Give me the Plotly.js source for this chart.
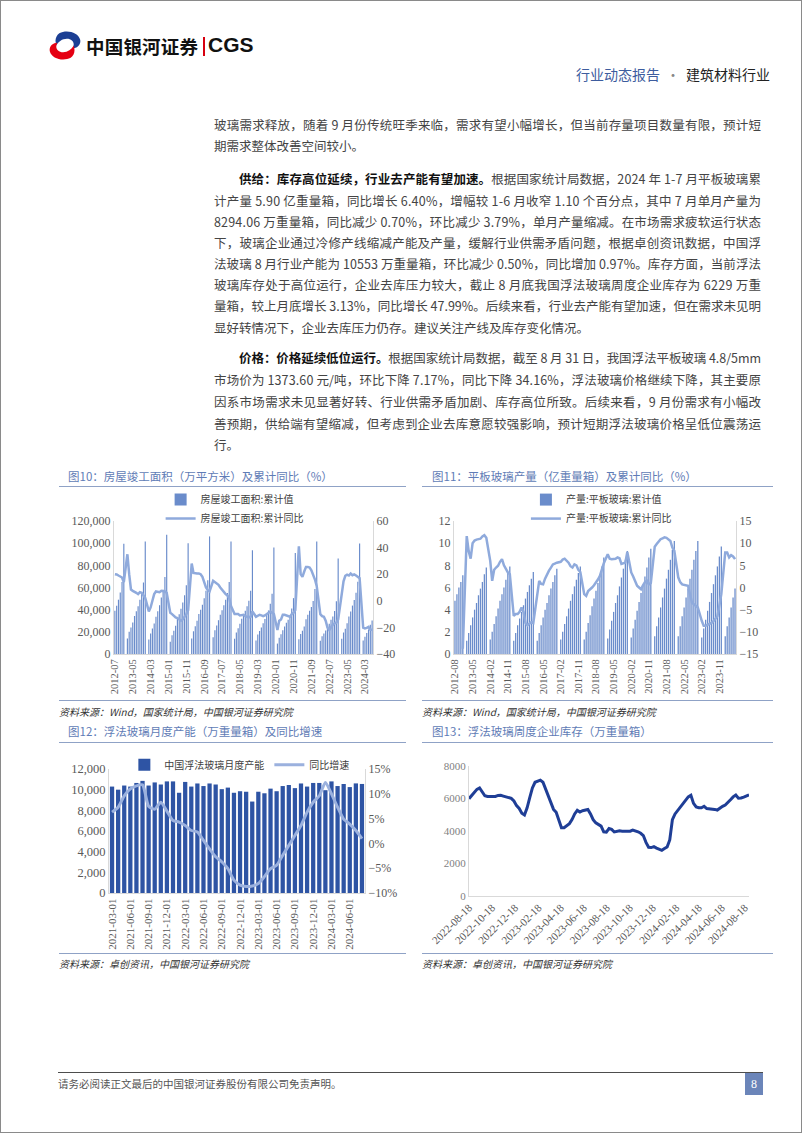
<!DOCTYPE html>
<html><head><meta charset="utf-8">
<script src="https://cdn.plot.ly/plotly-3.0.1.min.js"></script>
<style>
html,body{margin:0;padding:0;background:#fff;}
#page{position:relative;width:802px;height:1133px;box-sizing:border-box;border:1px solid #8a8a8a;overflow:hidden;font-family:"Noto Sans CJK SC",sans-serif;background:#fff;}
.abs{position:absolute;white-space:nowrap;}
.tl{position:absolute;left:213px;width:547px;height:20px;line-height:20px;font-size:12.5px;color:#444;white-space:nowrap;}
.tl b{color:#111;}
.ct{position:absolute;font-size:11.5px;color:#5F7CB6;white-space:nowrap;line-height:16px;}
.hr{position:absolute;height:0;border-top:1.5px solid #8FA2C6;}
.src{position:absolute;font-size:10px;font-style:italic;color:#333;white-space:nowrap;line-height:14px;}
.chart{position:absolute;}
</style></head>
<body>
<div id="page">
  <!-- header -->
  <svg class="abs" style="left:45px;top:29px" width="38" height="31" viewBox="0 0 40 32">
    <path d="M14,3 C22,-1 34,2 36,10 C37,15 33,19 28,19 C31,14 28,9 22,9 C17,9 13,12 11,16 C9,11 10,6 14,3 Z" fill="#1C3F94"/>
    <path d="M26,29 C18,33 6,30 4,22 C3,17 7,13 12,13 C9,18 12,23 18,23 C23,23 27,20 29,16 C31,21 30,26 26,29 Z" fill="#E50012"/>
  </svg>
  <div class="abs" style="left:85px;top:33px;font-size:18.5px;font-weight:700;color:#111;line-height:24px;letter-spacing:0.2px">中国银河证券</div>
  <div class="abs" style="left:202px;top:36px;width:1.5px;height:19px;background:#D7000F"></div>
  <div class="abs" style="left:207px;top:31px;font-family:'Liberation Sans',Arial,sans-serif;font-weight:700;font-size:21px;line-height:26px;color:#111">CGS</div>
  <div class="abs" style="left:575px;top:64px;font-size:14px;line-height:18px"><span style="color:#3D5C9E">行业动态报告</span><span style="color:#888;margin:0 6px">·</span><span style="color:#222">建筑材料行业</span></div>

  <!-- body text -->
  <div class="tl jl" style="top:114px"><span>玻璃需求释放，随着 9 月份传统旺季来临，需求有望小幅增长，但当前存量项目数量有限，预计短</span></div>
  <div class="tl" style="top:134.5px"><span>期需求整体改善空间较小。</span></div>

  <div class="tl jl" style="top:168px;left:238px;width:522px"><span><b>供给：库存高位延续，行业去产能有望加速。</b>根据国家统计局数据，2024 年 1-7 月平板玻璃累</span></div>
  <div class="tl jl" style="top:189.5px"><span>计产量 5.90 亿重量箱，同比增长 6.40%，增幅较 1-6 月收窄 1.10 个百分点，其中 7 月单月产量为</span></div>
  <div class="tl jl" style="top:210.5px"><span>8294.06 万重量箱，同比减少 0.70%，环比减少 3.79%，单月产量缩减。在市场需求疲软运行状态</span></div>
  <div class="tl jl" style="top:232px"><span>下，玻璃企业通过冷修产线缩减产能及产量，缓解行业供需矛盾问题，根据卓创资讯数据，中国浮</span></div>
  <div class="tl jl" style="top:253px"><span>法玻璃 8 月行业产能为 10553 万重量箱，环比减少 0.50%，同比增加 0.97%。库存方面，当前浮法</span></div>
  <div class="tl jl" style="top:273.5px"><span>玻璃库存处于高位运行，企业去库压力较大，截止 8 月底我国浮法玻璃周度企业库存为 6229 万重</span></div>
  <div class="tl jl" style="top:295px"><span>量箱，较上月底增长 3.13%，同比增长 47.99%。后续来看，行业去产能有望加速，但在需求未见明</span></div>
  <div class="tl" style="top:317px"><span>显好转情况下，企业去库压力仍存。建议关注产线及库存变化情况。</span></div>

  <div class="tl jl" style="top:347px;left:238px;width:522px"><span><b>价格：价格延续低位运行。</b>根据国家统计局数据，截至 8 月 31 日，我国浮法平板玻璃 4.8/5mm</span></div>
  <div class="tl jl" style="top:369px"><span>市场价为 1373.60 元/吨，环比下降 7.17%，同比下降 34.16%，浮法玻璃价格继续下降，其主要原</span></div>
  <div class="tl jl" style="top:391px"><span>因系市场需求未见显著好转、行业供需矛盾加剧、库存高位所致。后续来看，9 月份需求有小幅改</span></div>
  <div class="tl jl" style="top:413px"><span>善预期，供给端有望缩减，但考虑到企业去库意愿较强影响，预计短期浮法玻璃价格呈低位震荡运</span></div>
  <div class="tl" style="top:434px"><span>行。</span></div>

  <!-- chart frames -->
  <div class="ct" style="left:67px;top:467px">图10：房屋竣工面积（万平方米）及累计同比（%）</div>
  <div class="ct" style="left:431px;top:467px">图11：平板玻璃产量（亿重量箱）及累计同比（%）</div>
  <div class="hr" style="left:58px;top:485px;width:347px"></div>
  <div class="hr" style="left:421px;top:485px;width:351px"></div>
  <div class="hr" style="left:58px;top:699px;width:347px"></div>
  <div class="hr" style="left:421px;top:699px;width:351px"></div>
  <div class="src" style="left:58px;top:704px">资料来源：Wind，国家统计局，中国银河证券研究院</div>
  <div class="src" style="left:421px;top:704px">资料来源：Wind，国家统计局，中国银河证券研究院</div>

  <div class="ct" style="left:67px;top:722px">图12：浮法玻璃月度产能（万重量箱）及同比增速</div>
  <div class="ct" style="left:431px;top:722px">图13：浮法玻璃周度企业库存（万重量箱）</div>
  <div class="hr" style="left:58px;top:741px;width:347px"></div>
  <div class="hr" style="left:421px;top:741px;width:351px"></div>
  <div class="hr" style="left:58px;top:952px;width:347px"></div>
  <div class="hr" style="left:421px;top:952px;width:351px"></div>
  <div class="src" style="left:58px;top:956px">资料来源：卓创资讯，中国银河证券研究院</div>
  <div class="src" style="left:421px;top:956px">资料来源：卓创资讯，中国银河证券研究院</div>

  <div id="c10" class="chart" style="left:55px;top:490px;width:345px;height:210px"></div>
  <div id="c11" class="chart" style="left:400px;top:490px;width:400px;height:210px"></div>
  <div id="c12" class="chart" style="left:55px;top:745px;width:345px;height:207px"></div>
  <div id="c13" class="chart" style="left:400px;top:745px;width:400px;height:207px"></div>

  <!-- footer -->
  <div class="abs" style="left:57px;top:1071px;width:705px;border-top:1.5px solid #4d4d4d"></div>
  <div class="abs" style="left:57px;top:1076px;font-size:10.5px;line-height:14px;color:#555">请务必阅读正文最后的中国银河证券股份有限公司免责声明。</div>
  <div class="abs" style="left:744px;top:1072px;width:18px;height:22px;background:#6B85B9;color:#fff;font-family:'Liberation Serif',serif;font-size:12px;line-height:22px;text-align:center">8</div>
</div>

<script>
// ---------- data ----------
// Chart 10: 房屋竣工面积 累计值 (万平方米), monthly 2012-07 .. 2024-07 (Jan not published)
const area10 = [
  39000, 43500, 49000, 55500, 65000, 99400,
  null, 13900, 20000, 24000, 28500, 34300, 38500, 43000, 49000, 55000, 64500, 101400,
  null, 13000, 18500, 23000, 27500, 33500, 38500, 44000, 51000, 58000, 69500, 107500,
  null, 11000, 17000, 21000, 25500, 31500, 35800, 40800, 46500, 53000, 62000, 100000,
  null, 14000, 20500, 25000, 29900, 36000, 40000, 44500, 50400, 57000, 66600, 106100,
  null, 15200, 21500, 25700, 30500, 35500, 39500, 44000, 49000, 55000, 65000, 101500,
  null, 13800, 19500, 23200, 27200, 31800, 35500, 39000, 43000, 48000, 57000, 93600,
  null, 12200, 17500, 20800, 23800, 27800, 31500, 35100, 39300, 45300, 54400, 96000,
  null, 9400, 14700, 17800, 21400, 24900, 28200, 31000, 34300, 41100, 50400, 91200,
  null, 13200, 18100, 21000, 24900, 31300, 35500, 39100, 42300, 47800, 58600, 101400,
  null, 11900, 16000, 18500, 21100, 24600, 27200, 30800, 33900, 38800, 47500, 86200,
  null, 13800, 19400, 22800, 27800, 33900, 38400, 43700, 48700, 55200, 65200, 99800,
  null, 12200, 15500, 18900, 22200, 26500, 30300
];
// 房屋竣工面积 累计同比 (%)
const yoy10 = [
  20.0, 19.8, 19.0, 18.5, 17.5, 14.0,
  null, 35.0, 20.0, 8.5, 7.5, 7.0, 6.0, 5.0, 6.5, 6.0, 4.0, 2.0,
  null, -8.0, -5.0, 0.0, 5.0, 7.0, 7.0, 6.5, 7.5, 7.5, 7.0, 6.0,
  null, -9.0, -10.0, -11.5, -12.5, -13.0, -14.0, -15.0, -14.0, -12.0, -10.0, -7.0,
  null, 28.0, 21.0, 20.5, 20.5, 20.5, 20.0, 18.0, 13.0, 10.0, 8.0, 7.0,
  null, 15.0, 14.0, 13.0, 12.0, 10.0, 8.0, 7.0, 5.0, 4.0, 2.0, -4.0,
  null, -10.0, -10.0, -10.0, -11.0, -10.5, -10.5, -11.5, -12.0, -12.5, -12.0, -8.0,
  null, -12.0, -11.0, -10.5, -11.0, -11.5, -11.0, -10.0, -9.0, -8.0, -9.0, -10.0,
  null, -22.0, -15.0, -14.0, -10.5, -10.5, -11.0, -12.0, -12.0, -10.0, -9.0, -7.0,
  null, 41.0, 20.0, 18.0, 22.0, 25.5, 25.5, 25.0, 23.0, 20.0, 16.0, 11.0,
  null, -10.0, -11.5, -12.0, -15.0, -20.0, -22.0, -20.0, -18.0, -17.0, -16.5, -14.0,
  null, 8.0, 14.7, 18.8, 19.6, 19.0, 20.5, 19.2, 19.8, 19.0, 17.9, 17.0,
  null, -20.2, -20.7, -20.4, -19.6, -21.8, -21.8
];
const ticks10 = ['2012-07','2013-05','2014-03','2015-01','2015-11','2016-09','2017-07','2018-05','2019-03','2020-01','2020-11','2021-09','2022-07','2023-05','2024-03'];

// Chart 11: 平板玻璃产量 累计值 (亿重量箱), monthly 2012-08 .. 2024-07
const glass11 = [
  4.8, 5.4, 6.0, 6.5, 7.1,
  null, 1.2, 1.9, 2.6, 3.3, 4.0, 4.6, 5.3, 5.9, 6.5, 7.2, 7.8,
  null, 1.3, 2.0, 2.7, 3.4, 4.1, 4.8, 5.4, 6.0, 6.7, 7.3, 7.9,
  null, 1.2, 1.9, 2.6, 3.2, 3.8, 4.4, 5.0, 5.6, 6.2, 6.8, 7.4,
  null, 1.2, 1.9, 2.6, 3.3, 4.0, 4.6, 5.3, 5.9, 6.5, 7.1, 7.7,
  null, 1.3, 2.0, 2.7, 3.4, 4.1, 4.8, 5.4, 6.1, 6.7, 7.3, 7.9,
  null, 1.3, 2.0, 2.8, 3.5, 4.3, 5.0, 5.7, 6.4, 7.2, 7.9, 8.7,
  null, 1.4, 2.2, 3.0, 3.8, 4.6, 5.3, 6.1, 6.9, 7.7, 8.5, 9.3,
  null, 1.5, 2.3, 3.1, 3.9, 4.7, 5.5, 6.2, 7.0, 7.8, 8.7, 9.5,
  null, 1.6, 2.5, 3.3, 4.2, 5.1, 5.9, 6.8, 7.6, 8.5, 9.4, 10.2,
  null, 1.6, 2.5, 3.4, 4.2, 5.1, 5.9, 6.8, 7.6, 8.5, 9.3, 10.2,
  null, 1.5, 2.3, 3.1, 3.9, 4.7, 5.5, 6.3, 7.1, 7.9, 8.8, 9.7,
  null, 1.6, 2.5, 3.3, 4.2, 5.1, 5.9
];
// 平板玻璃产量 累计同比 (%)
const yoy11 = [
  null, null, null, null, -13.8,
  null, 11.6, 8.2, 6.5, 10.0, 10.6, 10.8, 10.9, 11.0, 11.5, 11.8, 11.2,
  null, 6.0, 1.5, 4.0, 4.5, 4.9, 5.8, 6.4, 5.0, 4.0, 3.4, 3.0,
  null, -6.4, -6.0, -6.0, -5.5, -4.5, -5.5, -8.0, -8.5, -8.2, -7.8, -8.0,
  null, -1.0, 1.5, 0.8, 0.7, 2.0, 3.0, 3.8, 4.5, 5.2, 5.4, 5.6,
  null, 5.8, 6.3, 6.5, 6.0, 5.6, 4.8, 4.5, 5.2, 5.0, 4.0, 3.5,
  null, -1.5, -1.9, -0.8, -0.5, 0.0, 0.5, 1.1, 1.8, 2.6, 4.0, 5.5,
  null, 7.5, 6.5, 6.4, 6.4, 6.5, 6.8, 6.6, 5.3, 5.4, 5.6, 8.0,
  null, 3.4, 2.5, 1.2, 0.4, 0.0, -0.4, 0.5, 1.2, 1.5, 0.7, 1.0,
  null, 9.2, 9.8, 10.5, 10.9, 11.1, 11.3, 11.2, 10.8, 10.5, 9.0, 8.3,
  null, 2.3, 1.2, 0.7, 0.6, 0.4, 0.4, -1.5, -3.4, -3.8, -4.1, -4.5,
  null, -7.5, -8.6, -8.6, -8.4, -8.3, -8.0, -7.6, -7.1, -6.5, -4.1, -1.5,
  null, 7.9, 7.9, 6.8, 7.3, 7.0, 6.4
];
const ticks11 = ['2012-08','2013-05','2014-02','2014-11','2015-08','2016-05','2017-02','2017-11','2018-08','2019-05','2020-02','2020-11','2021-08','2022-05','2023-02','2023-11'];

// Chart 12: 中国浮法玻璃月度产能 (万重量箱), 2021-03 .. 2024-08
const cap12 = [
  10300, 10000, 10400, 10300, 10650, 10850, 10400, 10700, 10500, 10800,
  10800, 9700, 10750, 10300, 10600, 10350, 10600, 10500, 10050, 10200, 9700, 9850,
  9800, 8850, 9800, 9650, 10100, 9850, 10350, 10450, 10150, 10600, 10300, 10650,
  10650, 9950, 10800, 10350, 10550, 10250, 10606, 10553
];
// 同比增速 (%)
const yoy12 = [
  6.3, 7.3, 9.6, 11.0, 11.6, 11.8, 7.5, 6.9, 8.3, 6.5,
  4.6, 4.3, 3.6, 2.6, 2.3, 0.6, -1.1, -2.7, -3.7, -5.1, -7.4, -8.4,
  -8.7, -8.6, -8.1, -6.7, -5.1, -4.4, -2.4, -0.4, 1.6, 3.6, 6.3, 8.3,
  9.6, 12.3, 10.0, 7.3, 4.9, 3.9, 2.6, 0.97
];
const ticks12 = ['2021-03-01','2021-06-01','2021-09-01','2021-12-01','2022-03-01','2022-06-01','2022-09-01','2022-12-01','2023-03-01','2023-06-01','2023-09-01','2023-12-01','2024-03-01','2024-06-01'];

// Chart 13: 浮法玻璃周度企业库存 (万重量箱), weekly from 2022-08-18
const inv13 = [
  5990, 6180, 6350, 6560, 6650, 6400, 6170, 6120, 6110, 6110,
  6130, 6190, 6200, 6150, 6100, 6050, 6010, 5850, 5560, 5390,
  5100, 4990, 5430, 6050, 6650, 7000, 7080, 7130, 7000, 6560,
  6100, 5650, 5330, 5150, 4700, 4200, 4200, 4330, 4450, 4700,
  5050, 5270, 5170, 5250, 5300, 5320, 5050, 4700, 4500, 4400,
  4300, 3950, 3930, 4150, 4100, 3940, 3980, 4010, 3990, 3980,
  4000, 3990, 4060, 4020, 3950, 3860, 3720, 3300, 3000, 2980,
  3040, 2950, 2880, 2810, 2920, 3020, 3450, 4700, 5050, 5250,
  5430, 5700, 5900, 6100, 6200, 5700, 5480, 5430, 5430, 5520,
  5380, 5370, 5380, 5330, 5290, 5430, 5520, 5600, 5740, 5920,
  6100, 6210, 6020, 6030, 6090, 6180, 6229
];
const start13 = '2022-08-18';

// ---------- helpers ----------
function monthSeq(y0, m0, y1, m1) {
  const a = []; let y = y0, m = m0;
  while (y < y1 || (y === y1 && m <= m1)) {
    a.push(y + '-' + String(m).padStart(2, '0'));
    m++; if (m > 12) { m = 1; y++; }
  }
  return a;
}
function weekSeq(start, n) {
  const d0 = new Date(start + 'T00:00:00Z'); const a = [];
  for (let i = 0; i < n; i++) { const d = new Date(d0.getTime() + i * 7 * 86400000); a.push(d.toISOString().slice(0, 10)); }
  return a;
}
const cats10 = monthSeq(2012, 7, 2024, 7);
const cats11 = monthSeq(2012, 8, 2024, 7);
const cats12 = monthSeq(2021, 3, 2024, 8).map(s => s + '-01');
const dates13 = weekSeq(start13, inv13.length);

const SERIF = 'Liberation Serif, Times New Roman, serif';
const CJK = 'Noto Sans CJK SC, sans-serif';
const AX = '#D9D9D9';
const BAR_THIN = '#6A8CCB';
const cfg = { staticPlot: true, displayModeBar: false };
function baseLayout(w, h, m) {
  return {
    width: w, height: h,
    margin: Object.assign({ autoexpand: false, pad: 0 }, m),
    paper_bgcolor: 'rgba(0,0,0,0)', plot_bgcolor: 'rgba(0,0,0,0)',
    font: { family: SERIF, size: 12, color: '#595959' },
    showlegend: true
  };
}

// ---------- chart 10 ----------
Plotly.newPlot('c10', [
  { type: 'bar', x: cats10, y: area10, name: '房屋竣工面积:累计值',
    marker: { color: BAR_THIN, line: { width: 0, color: BAR_THIN } }, yaxis: 'y' },
  { type: 'scatter', mode: 'lines', x: cats10, y: yoy10, name: '房屋竣工面积:累计同比', connectgaps: true,
    line: { color: '#8FAADC', width: 2.5 }, yaxis: 'y2' }
], Object.assign(baseLayout(345, 210, { l: 58, r: 28, t: 30, b: 47 }), {
  bargap: 0.35,
  xaxis: { type: 'category', tickmode: 'array', tickvals: ticks10, ticktext: ticks10, tickangle: -90,
    tickfont: { family: SERIF, size: 10.5, color: '#595959' }, showgrid: false, showline: true, linecolor: AX, ticks: '' },
  yaxis: { range: [0, 120000], dtick: 20000, tickformat: ',.0f', showgrid: false, zeroline: false,
    showline: true, linecolor: AX, ticks: '', tickfont: { family: SERIF, size: 12, color: '#595959' } },
  yaxis2: { overlaying: 'y', side: 'right', range: [-40, 60], dtick: 20, showgrid: false, zeroline: false,
    showline: true, linecolor: AX, ticks: '', tickfont: { family: SERIF, size: 12, color: '#595959' } },
  legend: { orientation: 'v', x: 0.18, xanchor: 'left', y: 1.27, yanchor: 'top', bgcolor: 'rgba(0,0,0,0)',
    font: { family: CJK, size: 10, color: '#404040' }, tracegroupgap: 0 }
}), cfg);

// ---------- chart 11 ----------
Plotly.newPlot('c11', [
  { type: 'bar', x: cats11, y: glass11, name: '产量:平板玻璃:累计值',
    marker: { color: BAR_THIN, line: { width: 0, color: BAR_THIN } }, yaxis: 'y' },
  { type: 'scatter', mode: 'lines', x: cats11, y: yoy11, name: '产量:平板玻璃:累计同比', connectgaps: true,
    line: { color: '#8FAADC', width: 2.5 }, yaxis: 'y2' }
], Object.assign(baseLayout(400, 210, { l: 53, r: 65, t: 30, b: 47 }), {
  bargap: 0.35,
  xaxis: { type: 'category', tickmode: 'array', tickvals: ticks11, ticktext: ticks11, tickangle: -90,
    tickfont: { family: SERIF, size: 10.5, color: '#595959' }, showgrid: false, showline: true, linecolor: AX, ticks: '' },
  yaxis: { range: [0, 12], dtick: 2, showgrid: false, zeroline: false, showline: true, linecolor: AX, ticks: '',
    tickfont: { family: SERIF, size: 12, color: '#595959' } },
  yaxis2: { overlaying: 'y', side: 'right', range: [-15, 15], dtick: 5, showgrid: false, zeroline: false,
    showline: true, linecolor: AX, ticks: '', tickfont: { family: SERIF, size: 12, color: '#595959' } },
  legend: { orientation: 'v', x: 0.255, xanchor: 'left', y: 1.27, yanchor: 'top', bgcolor: 'rgba(0,0,0,0)',
    font: { family: CJK, size: 10, color: '#404040' }, tracegroupgap: 0 }
}), cfg);

// ---------- chart 12 ----------
Plotly.newPlot('c12', [
  { type: 'bar', x: cats12, y: cap12, name: '中国浮法玻璃月度产能',
    marker: { color: '#2E54A4', line: { width: 0, color: '#2E54A4' } }, yaxis: 'y' },
  { type: 'scatter', mode: 'lines', x: cats12, y: yoy12, name: '同比增速',
    line: { color: '#9BB1DE', width: 3, shape: 'spline', smoothing: 0.6 }, yaxis: 'y2' }
], Object.assign(baseLayout(345, 207, { l: 53, r: 36, t: 23.3, b: 59.7 }), {
  bargap: 0.3,
  xaxis: { type: 'category', tickmode: 'array', tickvals: ticks12, ticktext: ticks12, tickangle: -90,
    tickfont: { family: SERIF, size: 11, color: '#595959' }, showgrid: false, showline: true, linecolor: AX, ticks: '' },
  yaxis: { range: [0, 12000], dtick: 2000, tickformat: ',.0f', showgrid: false, zeroline: false,
    showline: true, linecolor: AX, ticks: '', tickfont: { family: SERIF, size: 12.5, color: '#595959' } },
  yaxis2: { overlaying: 'y', side: 'right', range: [-10, 15], dtick: 5, ticksuffix: '%', showgrid: false, zeroline: false,
    showline: true, linecolor: AX, ticks: '', tickfont: { family: SERIF, size: 12, color: '#595959' } },
  legend: { orientation: 'h', x: 0.06, xanchor: 'left', y: 1.035, yanchor: 'middle', bgcolor: 'rgba(0,0,0,0)',
    font: { family: CJK, size: 10, color: '#404040' } }
}), cfg);

// ---------- chart 13 ----------
Plotly.newPlot('c13', [
  { type: 'scatter', mode: 'lines', x: dates13, y: inv13, name: '浮法玻璃周度企业库存',
    line: { color: '#1F3E96', width: 3 } }
], Object.assign(baseLayout(400, 207, { l: 68.3, r: 51.7, t: 20, b: 57 }), {
  showlegend: false,
  xaxis: { type: 'date', range: ['2022-08-18', '2024-08-29'], tick0: '2022-08-18', dtick: 'M2', tickformat: '%Y-%m-%d',
    tickangle: -45, tickfont: { family: SERIF, size: 11, color: '#595959' }, showgrid: false, showline: true, linecolor: AX, ticks: '' },
  yaxis: { range: [0, 8000], dtick: 2000, tickformat: 'd', showgrid: false, zeroline: false,
    showline: true, linecolor: AX, ticks: '', tickfont: { family: SERIF, size: 11, color: '#7F7F7F' } }
}), cfg);

// ---------- justify text lines ----------
function justify() {
  document.querySelectorAll('.jl').forEach(el => {
    const sp = el.firstElementChild;
    sp.style.letterSpacing = '0px';
    const w = sp.getBoundingClientRect().width;
    const n = sp.textContent.length;
    const W = el.getBoundingClientRect().width;
    sp.style.letterSpacing = ((W - w) / (n - 1)) + 'px';
  });
}
justify();
if (document.fonts && document.fonts.ready) document.fonts.ready.then(justify);
</script>
</body></html>
